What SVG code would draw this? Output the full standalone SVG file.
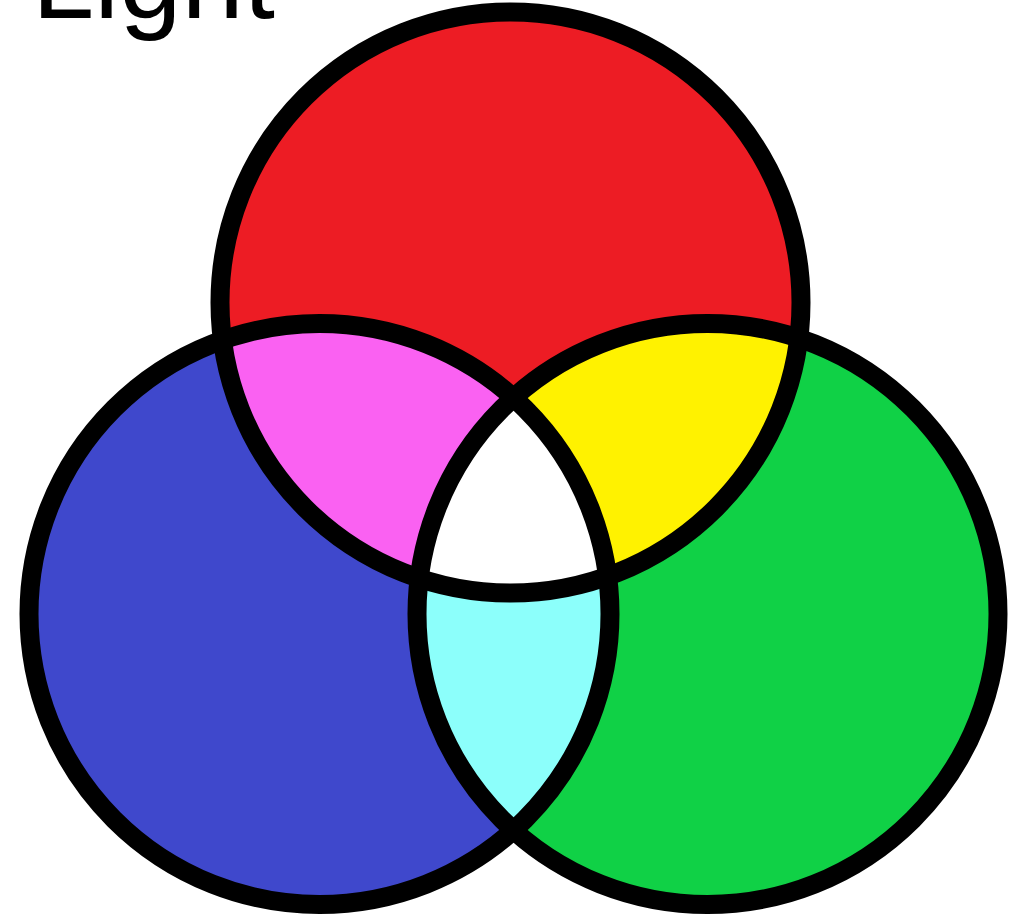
<svg xmlns="http://www.w3.org/2000/svg" width="1012" height="916" viewBox="0 0 1012 916">
  <style>
    .ring { fill: none; stroke: #000; stroke-width: 19; }
    .title { font-family: "Liberation Sans", Arial, sans-serif; font-size: 112px; fill: #000; }
  </style>
  <defs>
    <clipPath id="clipR"><circle cx="510.5" cy="302.5" r="290.5"/></clipPath>
    <clipPath id="clipB"><circle cx="319.5" cy="614" r="290.5"/></clipPath>
    <clipPath id="clipG"><circle cx="707.5" cy="614" r="290.5"/></clipPath>
  </defs>
  <rect width="1012" height="916" fill="#fff"/>
  <g id="title"><text class="title" x="32" y="18">Light</text></g>
  <g id="blue"><circle cx="319.5" cy="614" r="290.5" fill="#3F48CC"/></g>
  <g id="green"><circle cx="707.5" cy="614" r="290.5" fill="#10D146"/></g>
  <g id="red"><circle cx="510.5" cy="302.5" r="290.5" fill="#ED1C24"/></g>
  <g id="magenta" clip-path="url(#clipB)"><circle cx="510.5" cy="302.5" r="290.5" fill="#FA61F2"/></g>
  <g id="yellow" clip-path="url(#clipG)"><circle cx="510.5" cy="302.5" r="290.5" fill="#FFF200"/></g>
  <g id="cyan" clip-path="url(#clipG)"><circle cx="319.5" cy="614" r="290.5" fill="#8CFFFB"/></g>
  <g id="white" clip-path="url(#clipR)"><g clip-path="url(#clipG)"><circle cx="319.5" cy="614" r="290.5" fill="#FFFFFF"/></g></g>
  <g id="outlines">
    <circle class="ring" cx="510.5" cy="302.5" r="290.5"/>
    <circle class="ring" cx="319.5" cy="614" r="290.5"/>
    <circle class="ring" cx="707.5" cy="614" r="290.5"/>
  </g>
</svg>
